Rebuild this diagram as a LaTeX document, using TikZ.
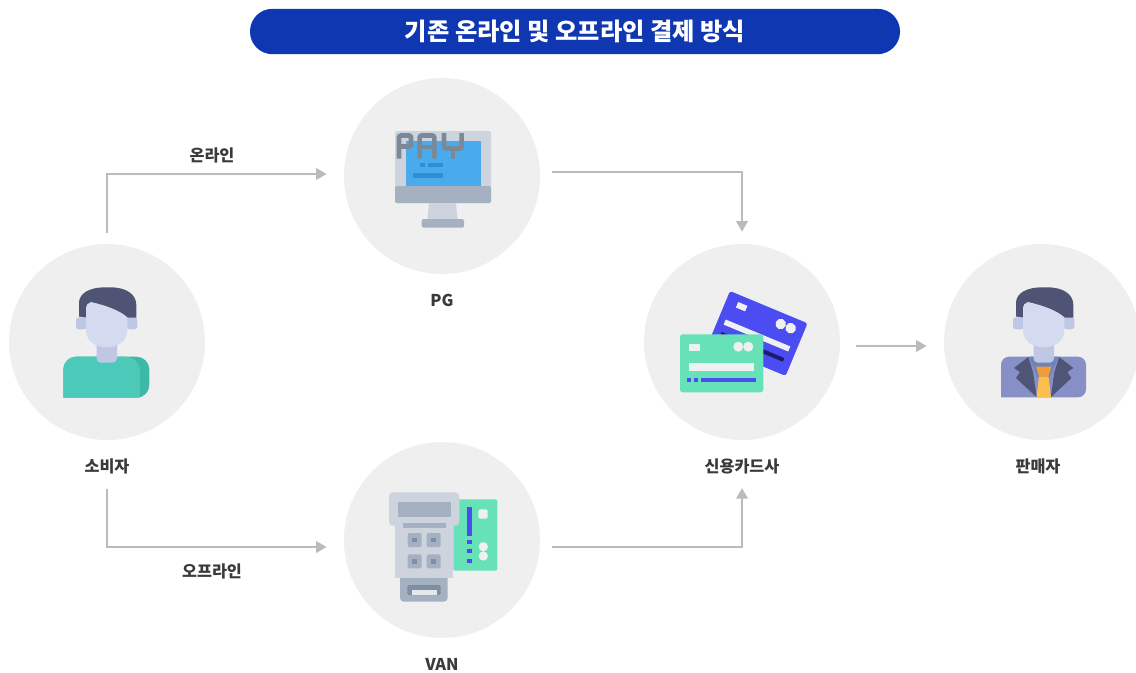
\documentclass[tikz,border=0pt]{standalone}
\usepackage{fontspec}
\setmainfont{Noto Sans CJK KR}
\usetikzlibrary{arrows.meta,calc}

\definecolor{bubble}{HTML}{EFEFEF}
\definecolor{flowgray}{HTML}{BBBBBB}
\definecolor{labeltext}{HTML}{3A3A3A}
\definecolor{titleblue}{HTML}{0F37B2}
\definecolor{devlight}{HTML}{CED4DE}
\definecolor{devdark}{HTML}{A5B1C0}
\definecolor{keydot}{HTML}{7F8FA3}
\definecolor{slotlight}{HTML}{E4E7EC}
\definecolor{screen}{HTML}{4AABEC}
\definecolor{screenbar}{HTML}{2E8FD6}
\definecolor{payink}{HTML}{7A8898}
\definecolor{mint}{HTML}{67E2B8}
\definecolor{cardblue}{HTML}{4B4CF2}
\definecolor{cardlight}{HTML}{EEF0F2}
\definecolor{cardnavy}{HTML}{1C1C6E}
\definecolor{hair}{HTML}{4F5474}
\definecolor{face}{HTML}{D4DBF1}
\definecolor{skin}{HTML}{BFC7E4}
\definecolor{shirt}{HTML}{4CC9B8}
\definecolor{shirtshade}{HTML}{3DBAA5}
\definecolor{suit}{HTML}{8790C6}
\definecolor{lapel}{HTML}{4F5576}
\definecolor{collar}{HTML}{6D84B8}
\definecolor{knot}{HTML}{F29C38}
\definecolor{tie}{HTML}{FDBE4E}

% head of a person icon (ears, hair, face), drawn around x = 107
\newcommand\personhead{%
  \fill[skin, rounded corners=2pt] (76,317.3) rectangle (86.7,329.3);
  \fill[skin, rounded corners=2pt] (126.7,317.3) rectangle (137.3,329.3);
  \fill[hair] (79,316.5) -- (79,303) .. controls (79,293) and (90,287.3) .. (105,287.3)
    -- (110,287.3) .. controls (126,287.3) and (136.3,294) .. (136.3,305)
    -- (136.3,317.5) -- (86,317.5) -- cycle;
  \fill[face] (86,330) -- (86,309) .. controls (86,305) and (88,302.5) .. (91,302)
    .. controls (106,305.5) and (120,310.5) .. (127.3,317.3) -- (127.3,330)
    .. controls (127.3,341) and (118,347.3) .. (106.7,347.3)
    .. controls (95.4,347.3) and (86,341) .. (86,330) -- cycle;
}
\newcommand\personneck{%
  \fill[skin, rounded corners=3pt] (96.5,336) rectangle (117,362.5);
}

\begin{document}
\begin{tikzpicture}[x=0.75pt,y=-0.75pt,
  bubble/.style={circle, fill=bubble, minimum size=147pt, inner sep=0pt},
  caption/.style={font=\bfseries\fontsize{12.2pt}{14pt}\selectfont, text=labeltext, inner sep=0pt},
  flow/.style={draw=flowgray, line width=2.1pt, -{Triangle[length=8pt,width=8.5pt]}},
  titlebar/.style={fill=titleblue, text=white, rounded corners=16.8pt,
    minimum width=487.5pt, minimum height=34pt, inner sep=0pt,
    font=\bfseries\fontsize{18.2pt}{20pt}\selectfont}]
\useasboundingbox (0,0) rectangle (1136,672);

% title
\node[titlebar] (title) at (575,31.5) {기존 온라인 및 오프라인 결제 방식};

% circles
\node[bubble] (consumer) at (107,342) {};
\node[bubble] (pg) at (442,176) {};
\node[bubble] (van) at (442,540) {};
\node[bubble] (card) at (742,342) {};
\node[bubble] (seller) at (1042,342) {};

% captions
\node[caption] (consumerlbl) at (107,466) {소비자};
\node[caption] (pglbl) at (442,300) {PG};
\node[caption] (vanlbl) at (442,664) {VAN};
\node[caption] (cardlbl) at (742,466) {신용카드사};
\node[caption] (sellerlbl) at (1038,466) {판매자};
\node[caption] (onlinelbl) at (212,155) {온라인};
\node[caption] (offlinelbl) at (212,571.5) {오프라인};

% connectors
\draw[flow] ($(consumer.north)+(0,-11)$) |- ($(pg.west)+(-17,-2)$);
\draw[flow] ($(consumerlbl)+(0,23)$) |- ($(van.west)+(-17,7)$);
\draw[flow] ($(pg.east)+(12,-4)$) -| ($(card.north)+(0,-12)$);
\draw[flow] ($(van.east)+(12,7)$) -| ($(cardlbl)+(0,22)$);
\draw[flow] ($(card.east)+(16,4)$) -- ($(seller.west)+(-17,4)$);

% ---- consumer icon
\fill[shirtshade] (63.3,397.7) [rounded corners=9.5pt] -- (63.3,356.7) -- (149.3,356.7) -- (149.3,397.7) [sharp corners] -- cycle;
\fill[shirt] (63.3,397.7) [rounded corners=9.5pt] -- (63.3,356.7) [sharp corners] -- (125,356.7)
  .. controls (134,357) and (140,363) .. (140,372) -- (140,397.7) -- cycle;
\personneck
\personhead

% ---- seller icon
\fill[suit] (1001,397.3) [rounded corners=6pt] -- (1001,356.7) -- (1086,356.7) -- (1086,397.3) [sharp corners] -- cycle;
\fill[collar] (1029,356.7) -- (1058.5,356.7) -- (1050,377) -- (1037.5,377) -- cycle;
\begin{scope}[shift={(937,0)}]
  \personneck
\end{scope}
\fill[lapel] (1028.3,357) -- (1014,368) -- (1020,372) -- (1016,378) -- (1036.7,397.3) -- (1033,372) -- cycle;
\fill[lapel] (1059.1,357) -- (1073.4,368) -- (1067.4,372) -- (1071.4,378) -- (1050.7,397.3) -- (1054.4,372) -- cycle;
\fill[knot] (1036,366.5) -- (1051.4,366.5) -- (1048.5,376.5) -- (1039,376.5) -- cycle;
\fill[tie] (1039,376.5) -- (1048.5,376.5) -- (1051,397.3) -- (1036.5,397.3) -- cycle;
\begin{scope}[shift={(937,0)}]
  \personhead
\end{scope}

% ---- PG monitor
\fill[devlight, rounded corners=1.5pt] (395,131) rectangle (491,203);
\fill[devdark, rounded corners=1.5pt] (395,186) rectangle (491,203);
\fill[screen] (405.5,141) rectangle (481,186);
\fill[screenbar] (420,162.7) rectangle (425,167.3);
\fill[screenbar] (428,162.7) rectangle (443,167.3);
\fill[screenbar] (413,173) rectangle (443,177.7);
\fill[devlight] (429,203) -- (456,203) -- (457.5,219) -- (427.5,219) -- cycle;
\fill[devdark, rounded corners=1.5pt] (421.7,219) rectangle (464,227.7);
\begin{scope}[draw=payink, line width=3.4pt, rounded corners=1.5pt]
  \draw (399,158.7) -- (399,135.5) -- (411,135.5) -- (411,146.5) -- (399,146.5);
  \draw (419.7,158.7) -- (419.7,135.5) -- (434.3,135.5) -- (434.3,158.7);
  \draw (419.7,147) -- (434.3,147);
  \draw (444,133) -- (444,148.5) -- (461.7,148.5) -- (461.7,133);
  \draw (453,148.5) -- (453,158.7);
\end{scope}

% ---- VAN terminal with card
\fill[mint, rounded corners=1.5pt] (453.3,499.3) rectangle (497.3,570.7);
\fill[cardblue] (466.7,506.7) rectangle (472,535.7);
\fill[cardblue] (466.7,540) rectangle (472,544.3);
\fill[cardblue] (466.7,549) rectangle (472,553.3);
\fill[cardblue] (466.7,559) rectangle (472,563.3);
\fill[cardlight, rounded corners=1.5pt] (478.3,509.3) rectangle (487.7,518.7);
\fill[cardlight] (483.3,546.7) circle (3.5pt);
\fill[cardlight] (483.3,556) circle (3.5pt);

\fill[devdark, rounded corners=3pt] (400,570) rectangle (447.7,601.7);
\fill[keydot, rounded corners=1pt] (407.3,585) rectangle (440.7,595);
\fill[slotlight] (412.3,590) rectangle (436.7,595);
\fill[devlight] (395.3,518) rectangle (452.7,577.7);
\fill[devlight, rounded corners=3pt] (389,492.3) rectangle (459.3,525.7);
\fill[devdark] (397.7,501.7) rectangle (451,516.7);
\fill[devdark] (402.7,523.3) rectangle (446,527.7);
\foreach \kx/\ky in {407.7/533, 426.7/533, 407.7/554.3, 426.7/554.3}{
  \fill[devdark, rounded corners=1.5pt] (\kx,\ky) rectangle ++(14,14);
  \fill[keydot] ($(\kx,\ky)+(4.7,4.7)$) rectangle ++(4.7,4.7);
}

% ---- credit cards
\begin{scope}[shift={(730,291)}, rotate=-22.6]
  \fill[cardblue, rounded corners=2pt] (0,0) rectangle (84,57);
  \fill[cardlight] (11.8,7) rectangle (21.8,13);
  \fill[cardlight] (59.5,11) circle (4pt);
  \fill[cardlight] (70.3,11) circle (4pt);
  \fill[cardlight] (7,28) rectangle (77,33.5);
  \fill[cardnavy] (8,41) rectangle (76,45);
\end{scope}
\fill[mint, rounded corners=2pt] (680,334.3) rectangle (763.3,392.3);
\fill[cardlight] (689,343.7) rectangle (700,350.7);
\fill[cardlight] (738.3,346.7) circle (3.75pt);
\fill[cardlight] (748.3,346.7) circle (3.75pt);
\fill[cardlight] (689,363.3) rectangle (754.3,370.7);
\fill[cardblue] (687,377.7) rectangle (691,381.7);
\fill[cardblue] (694,377.7) rectangle (698,381.7);
\fill[cardblue] (701,377.7) rectangle (756,381.7);

\end{tikzpicture}
\end{document}
